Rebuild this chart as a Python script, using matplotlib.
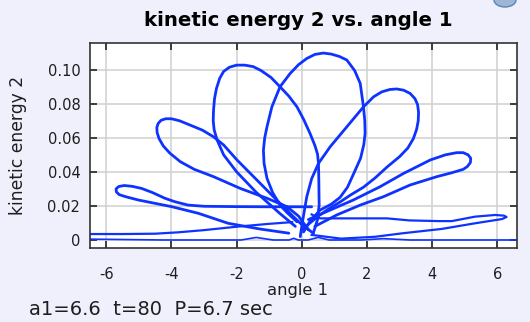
import matplotlib
matplotlib.use("Agg")
import matplotlib.pyplot as plt
from matplotlib.patches import Ellipse

plt.rcParams["axes.unicode_minus"] = False
plt.rcParams["font.family"] = ["DejaVu Sans"]

# angle 1 (rad) and kinetic energy 2 along the trajectory, one loop per list
petal_a_x = [0.35, 0.00, -0.26, -0.67, -1.28, -1.99, -2.40, -2.71, -3.05, -3.43, -3.75, -4.00, -4.18, -4.32, -4.41, -4.45, -4.44, -4.38, -4.25, -4.05, -3.73, -3.30, -2.71, -1.89, -1.07, -0.46, -0.10, 0.20]
petal_a_y = [0.004, 0.009, 0.0137, 0.0215, 0.0333, 0.0470, 0.0558, 0.0606, 0.0645, 0.0675, 0.0700, 0.0712, 0.0712, 0.0703, 0.0684, 0.0660, 0.0630, 0.0595, 0.0552, 0.0510, 0.0460, 0.0415, 0.0372, 0.0303, 0.0245, 0.0196, 0.0140, 0.006]

petal_b_x = [-0.20, -0.70, -1.40, -2.00, -2.40, -2.60, -2.69, -2.72, -2.71, -2.68, -2.62, -2.52, -2.40, -2.22, -2.00, -1.75, -1.49, -1.25, -0.95, -0.67, -0.40, -0.15, 0.05, 0.25, 0.40, 0.48, 0.51, 0.52, 0.53, 0.48, 0.35]
petal_b_y = [0.008, 0.016, 0.028, 0.040, 0.050, 0.0587, 0.0646, 0.0700, 0.0763, 0.0830, 0.0890, 0.0950, 0.0990, 0.1015, 0.1027, 0.1027, 0.1018, 0.0995, 0.0955, 0.0900, 0.0845, 0.0782, 0.0710, 0.0626, 0.0555, 0.0505, 0.0450, 0.0350, 0.0205, 0.012, 0.004]

petal_c_x = [-0.15, -0.45, -0.67, -0.90, -1.07, -1.16, -1.18, -1.14, -1.07, -0.92, -0.67, -0.36, -0.10, 0.15, 0.40, 0.66, 0.90, 1.15, 1.38, 1.62, 1.79, 1.89, 1.93, 1.94, 1.90, 1.80, 1.59, 1.40, 1.17, 0.90, 0.56, 0.25, 0.05]
petal_c_y = [0.0107, 0.0160, 0.0205, 0.0280, 0.0362, 0.0450, 0.0528, 0.0600, 0.0665, 0.0782, 0.0900, 0.0978, 0.1030, 0.1066, 0.1090, 0.1098, 0.1092, 0.1078, 0.1057, 0.0995, 0.0920, 0.0782, 0.0700, 0.0626, 0.0560, 0.0480, 0.0390, 0.0310, 0.0250, 0.0210, 0.0176, 0.0110, 0.0047]

petal_d_x = [-0.05, 0.03, 0.15, 0.30, 0.51, 0.87, 1.38, 1.89, 2.20, 2.45, 2.70, 2.91, 3.12, 3.32, 3.47, 3.55, 3.58, 3.57, 3.52, 3.42, 3.25, 3.00, 2.61, 2.25, 1.89, 1.50, 1.17, 0.80, 0.50, 0.00]
petal_d_y = [0.002, 0.012, 0.0254, 0.036, 0.0450, 0.0548, 0.0665, 0.0782, 0.0841, 0.0870, 0.0884, 0.0887, 0.0880, 0.0861, 0.0830, 0.0795, 0.0750, 0.0700, 0.0650, 0.0595, 0.0540, 0.0490, 0.0428, 0.0365, 0.0310, 0.0265, 0.0223, 0.0180, 0.0140, 0.006]

petal_e_x = [0.20, 0.87, 1.58, 2.40, 3.11, 3.94, 4.40, 4.75, 4.95, 5.10, 5.18, 5.17, 5.08, 4.95, 4.60, 4.14, 3.32, 2.50, 1.79, 1.07, 0.40]
petal_e_y = [0.012, 0.0176, 0.0235, 0.0313, 0.0390, 0.0470, 0.0500, 0.0513, 0.0513, 0.0500, 0.0480, 0.0455, 0.0432, 0.0415, 0.0395, 0.0372, 0.0323, 0.0254, 0.0205, 0.0147, 0.008]

petal_f_x = [0.30, -1.00, -2.00, -3.00, -3.49, -3.90, -4.20, -4.60, -4.92, -5.20, -5.45, -5.62, -5.70, -5.69, -5.60, -5.40, -5.02, -4.50, -4.00, -3.18, -2.26, -1.30, -0.40]
petal_f_y = [0.0195, 0.0195, 0.0196, 0.0198, 0.0205, 0.0225, 0.0245, 0.0280, 0.0303, 0.0315, 0.0320, 0.0314, 0.0300, 0.0282, 0.0266, 0.0254, 0.0235, 0.0215, 0.0196, 0.0157, 0.0098, 0.0065, 0.004]

petal_g_x = [0.30, 0.56, 1.50, 2.61, 3.30, 4.20, 4.60, 5.31, 5.93, 6.20, 6.28, 6.14, 5.31, 4.29, 3.07, 2.25, 1.20, 0.30]
petal_g_y = [0.015, 0.0127, 0.0127, 0.0127, 0.0115, 0.0111, 0.0111, 0.0137, 0.0147, 0.0143, 0.0135, 0.0123, 0.0098, 0.0065, 0.0039, 0.0019, 0.0008, 0.003]

low_left_x = [-6.50, -5.50, -4.50, -3.80, -3.00, -2.00, -1.00, -0.30]
low_left_y = [0.0035, 0.0035, 0.0037, 0.0045, 0.0058, 0.0078, 0.0095, 0.0105]

floor_x = [-6.50, -4.25, -1.86, -1.40, -0.88, -0.39, -0.25, -0.11, 0.19, 0.50, 0.84, 1.82, 2.50, 3.32, 6.60]
floor_y = [0.0005, 0.0, 0.0, 0.0015, 0.0, 0.0, 0.001, 0.0, 0.0, 0.0015, 0.0, 0.0, 0.0008, 0.0, 0.0]

x_ticks = [-6, -4, -2, 0, 2, 4, 6]
y_ticks = [0, 0.02, 0.04, 0.06, 0.08, 0.10]
y_tick_labels = ["0", "0.02", "0.04", "0.06", "0.08", "0.10"]

BLUE = "#0f33ff"
BG = "#f0f0fc"
INK = "#1e1e1e"
W, H = 530, 322

fig = plt.figure(figsize=(W / 100, H / 100), dpi=100, facecolor=BG)
ax = fig.add_axes([90 / W, 1 - 248 / H, 427 / W, 205 / H])
ax.set_facecolor("white")

loops = [(petal_a_x, petal_a_y), (petal_b_x, petal_b_y), (petal_c_x, petal_c_y),
         (petal_d_x, petal_d_y), (petal_e_x, petal_e_y), (petal_f_x, petal_f_y)]
for xs, ys in loops:
    ax.plot(xs, ys, color=BLUE, lw=2.0, solid_joinstyle="round", solid_capstyle="round")
ax.plot(petal_g_x, petal_g_y, color=BLUE, lw=1.6, solid_joinstyle="round")
ax.plot(low_left_x, low_left_y, color=BLUE, lw=1.6)
ax.plot(floor_x, floor_y, color=BLUE, lw=1.2)

ax.set_xlim(-6.5, 6.6)
ax.set_ylim(-0.0047, 0.1157)
ax.set_xticks(x_ticks)
ax.set_xticklabels([str(t) for t in x_ticks])
ax.set_yticks(y_ticks)
ax.set_yticklabels(y_tick_labels)

ax.grid(True, color="#d0d0d0", lw=1.1)
ax.set_axisbelow(True)
for s in ax.spines.values():
    s.set_color("#333333")
    s.set_linewidth(1.2)

ax.tick_params(axis="both", direction="in", length=5, width=1.2, color="#222222",
               top=True, right=True, labelsize=10.5, labelcolor=INK)
ax.tick_params(axis="x", pad=14)
ax.tick_params(axis="y", pad=7)

fig.text(298.5 / W, 1 - 26 / H, "kinetic energy 2 vs. angle 1", fontsize=14.2,
         fontweight="bold", ha="center", va="baseline", color="black")
fig.text(297.5 / W, 1 - 295 / H, "angle 1", fontsize=11.8, ha="center",
         va="baseline", color=INK)
fig.text(18 / W, 1 - 145 / H, "kinetic energy 2", fontsize=12.3, rotation=90,
         ha="center", va="center", color=INK)
fig.text(29 / W, 1 - 315 / H, "a1=6.6  t=80  P=6.7 sec", fontsize=14,
         ha="left", va="baseline", color=INK)

fig.patches.append(Ellipse((505 / W, 1.0), 22 / W, 14 / H, transform=fig.transFigure,
                           facecolor="#9db6d6", edgecolor="#5f83b5", lw=1.0))

fig.savefig("out.png", dpi=100, facecolor=BG)
